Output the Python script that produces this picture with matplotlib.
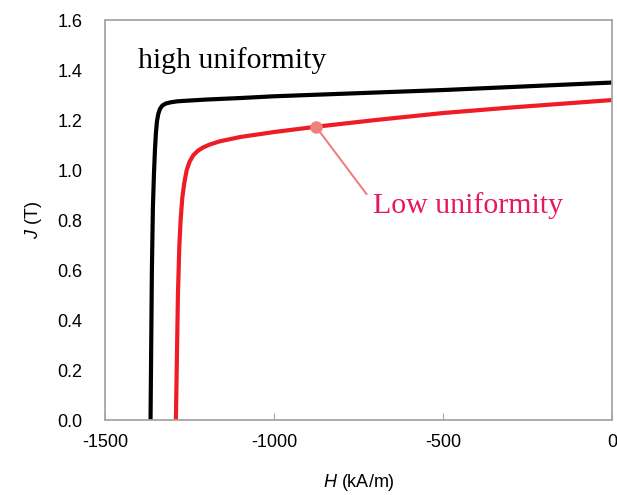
import matplotlib.pyplot as plt

plt.rcParams['axes.unicode_minus'] = False
plt.rcParams['mathtext.fontset'] = 'custom'
plt.rcParams['mathtext.it'] = 'Liberation Sans:italic'
plt.rcParams['mathtext.rm'] = 'Liberation Sans'

# demagnetization curves
h_high = [-1365, -1363, -1361, -1358, -1355, -1352, -1349, -1346, -1342, -1337,
          -1330, -1320, -1305, -1285, -1250, -1200, -1100, -1000, -800, -500, -250, 0]
j_high = [0.0, 0.3, 0.6, 0.85, 0.98, 1.08, 1.15, 1.195, 1.225, 1.245,
          1.258, 1.266, 1.271, 1.275, 1.278, 1.282, 1.288, 1.295, 1.305, 1.32, 1.335, 1.35]

h_low = [-1290, -1287, -1284, -1280, -1276, -1271, -1265, -1258, -1249, -1238,
         -1225, -1210, -1190, -1160, -1100, -1000, -870, -700, -500, -300, -150, 0]
j_low = [0.0, 0.25, 0.5, 0.69, 0.8, 0.89, 0.95, 1.0, 1.035, 1.06,
         1.077, 1.09, 1.102, 1.115, 1.132, 1.152, 1.174, 1.2, 1.228, 1.25, 1.265, 1.28]

marker_pt = (-875, 1.172)

fig = plt.figure(figsize=(6.17, 4.95), dpi=100)
ax = fig.add_axes([0.170, 0.1515, 0.822, 0.808])

ax.plot(h_high, j_high, color='black', lw=3.0, solid_capstyle='butt')
ax.plot(h_low, j_low, color='#ee1c25', lw=3.0, solid_capstyle='butt')

ax.set_xlim(-1500, 0)
ax.set_ylim(0, 1.6)
ax.set_xticks([-1500, -1000, -500, 0])
ax.set_yticks([0.0, 0.2, 0.4, 0.6, 0.8, 1.0, 1.2, 1.4, 1.6])
ax.set_yticklabels(['%.1f' % v for v in ax.get_yticks()])

for s in ax.spines.values():
    s.set_color('#a6a6a6')
    s.set_linewidth(1.3)

ax.tick_params(axis='x', direction='in', length=5, color='#a6a6a6', pad=10,
               labelsize=13)
ax.tick_params(axis='y', length=0, pad=16, labelsize=13)
for lab in ax.get_xticklabels() + ax.get_yticklabels():
    lab.set_family('Liberation Sans')

ax.set_xlabel(r'$\it{H}$ (kA/m)', fontsize=13, family='Liberation Sans', labelpad=15)
ax.set_ylabel(r'$\it{J}$ (T)', fontsize=13, family='Liberation Sans', labelpad=10)

ax.text(-1402, 1.44, 'high uniformity', fontsize=21.5, family='Liberation Serif',
        va='center', ha='left', color='black')

ax.annotate('Low uniformity', xy=marker_pt, xytext=(-708, 0.86),
            fontsize=21.5, family='Liberation Serif', color='#e8175d',
            va='center', ha='left',
            arrowprops=dict(arrowstyle='-', color='#f08080', lw=1.5,
                            relpos=(0, 0.6), shrinkA=4, shrinkB=0))
ax.plot(*marker_pt, 'o', color='#f08080', ms=8, zorder=5)

fig.savefig('out.png', dpi=100)
